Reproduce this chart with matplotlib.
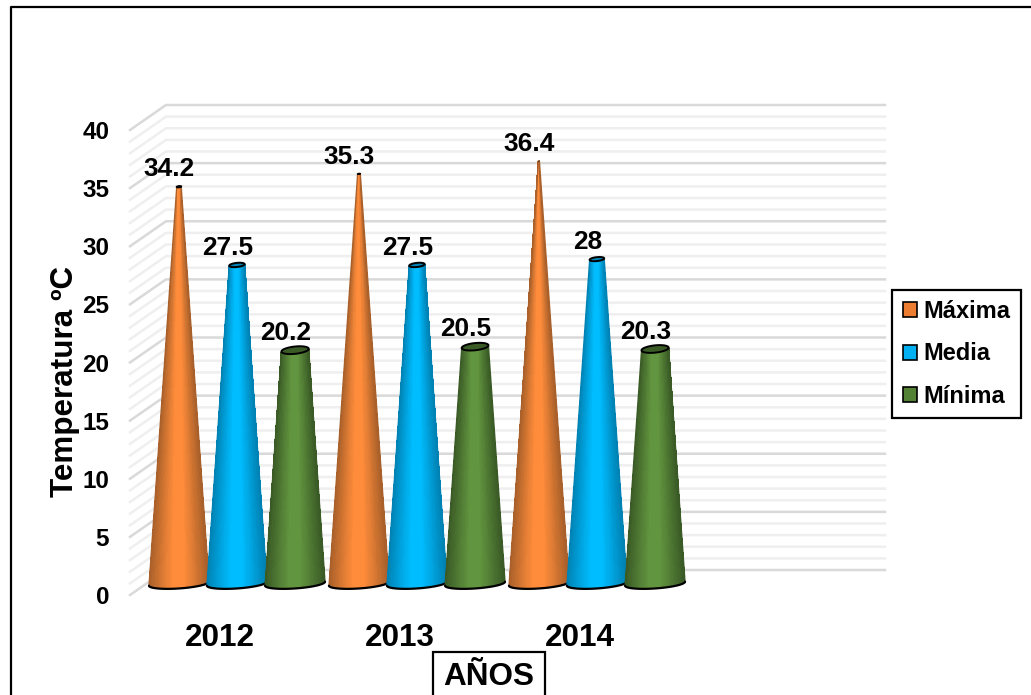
import matplotlib
matplotlib.use("Agg")
import matplotlib.pyplot as plt
import numpy as np
from matplotlib.colors import LinearSegmentedColormap
from matplotlib.lines import Line2D
from matplotlib.patches import Patch, Polygon

plt.rcParams['font.family'] = ['Liberation Sans', 'DejaVu Sans']
plt.rcParams['font.weight'] = 'bold'

# Data
years = ['2012', '2013', '2014']
maxima = [34.2, 35.3, 36.4]
media = [27.5, 27.5, 28]
minima = [20.2, 20.5, 20.3]
data_labels = {'Máxima': ['34.2', '35.3', '36.4'],
               'Media': ['27.5', '27.5', '28'],
               'Mínima': ['20.2', '20.5', '20.3']}
series = {'Máxima': maxima, 'Media': media, 'Mínima': minima}
y_ticks = [0, 5, 10, 15, 20, 25, 30, 35, 40]

# Colors: edge shade, middle shade, legend color
colors = {'Máxima': ('#A9602A', '#FF8C3A', '#ED7D31'),
          'Media': ('#0082B4', '#00BDFF', '#00B0F0'),
          'Mínima': ('#3A5A26', '#62953F', '#548235')}

W, H = 1031, 695
fig = plt.figure(figsize=(W / 100, H / 100), dpi=100, facecolor='white')


def axes_from_px(left, top, right, bottom):
    return fig.add_axes([left / W, 1 - bottom / H, (right - left) / W, (bottom - top) / H])


# Back wall and side wall, in their own axes
wall = axes_from_px(130, 130, 885, 595)
wall.set_xlim(0, 1)
wall.set_ylim(0, 40)
wall.patch.set_visible(False)
for s in wall.spines.values():
    s.set_visible(False)
depth_x = 36 / 755
depth_y = 25 / 465 * 40
for v in range(0, 41):
    major = v % 5 == 0
    wall.plot([0, depth_x, 1], [v, v + depth_y, v + depth_y], clip_on=False,
              color='#D9D9D9' if major else '#EFEFEF', lw=1.8, zorder=1)
wall.set_yticks(y_ticks)
wall.set_yticklabels([str(t) for t in y_ticks], fontsize=17.5)
wall.tick_params(axis='y', length=0, pad=15)
wall.set_xticks([])
wall.set_ylabel('Temperatura ºC', fontsize=22.6, fontweight='bold')
wall.yaxis.set_label_coords(-50 / 755, 0.5 - 18.5 / 465)

# Cones
ax = axes_from_px(130, 119, 885, 586)
ax.set_xlim(-0.5, (885 - 220) / 180)
ax.set_ylim(0, 40)
ax.patch.set_visible(False)
for s in ax.spines.values():
    s.set_visible(False)
ax.set_yticks([])
ax.set_xticks(range(len(years)))
ax.set_xticklabels(years, fontsize=22.7)
ax.tick_params(axis='x', length=0, pad=27)

offsets = [-0.228, 0.094, 0.417]
px_x = 180.0
px_y = 467 / 40
base_hw = 30  # half width of a cone foot, px
apex = 37.0
n = 80
angles = np.linspace(np.pi, 2 * np.pi, n + 1)
around = np.linspace(0, 2 * np.pi, 60)
mid_angles = (angles[:-1] + angles[1:]) / 2

for s_idx, (name, off) in enumerate(zip(series, offsets)):
    edge, mid, _ = colors[name]
    cmap = LinearSegmentedColormap.from_list(name, [(0, edge), (0.4, mid), (0.6, mid), (1, edge)])
    for i, v in enumerate(series[name]):
        c = i + off
        z = 3 + i * 3 + s_idx * 0.5
        top_hw = base_hw * (1 - v / apex)
        foot_x = c + base_hw * np.cos(angles) / px_x
        foot_y = 0.2 + (4.8 * np.sin(angles) + 2.0 * np.cos(angles)) / px_y
        rim_x = c + top_hw * np.cos(angles) / px_x
        rim_y = v + top_hw * (0.27 * np.sin(angles) + 0.1 * np.cos(angles)) / px_y
        X = np.vstack([foot_x, rim_x])
        Y = np.vstack([foot_y, rim_y])
        # shade runs across the width of the cone
        C = ((1 + np.cos(mid_angles)) / 2).reshape(1, -1)
        ax.pcolormesh(X, Y, C, cmap=cmap, shading='flat', zorder=z, clip_on=False,
                      antialiased=False)
        # smooth sides, the mesh itself has hard pixel steps
        for k in (0, -1):
            ax.plot([foot_x[k], rim_x[k]], [foot_y[k], rim_y[k]], color=edge, lw=0.9,
                    zorder=z + 0.05, clip_on=False)
        ax.plot(foot_x, foot_y, color='black', lw=1.6, zorder=z + 0.1, clip_on=False,
                solid_capstyle='round')
        # top cap
        cap = np.column_stack([c + top_hw * np.cos(around) / px_x,
                               v + top_hw * (0.27 * np.sin(around) + 0.1 * np.cos(around)) / px_y])
        ax.add_patch(Polygon(cap, closed=True, facecolor=edge, edgecolor='black',
                             lw=min(1.4, top_hw * 0.8), zorder=z + 0.2, clip_on=False))
        ax.annotate(data_labels[name][i], xy=(c, v), xytext=(-6.8, 12.5), textcoords='offset points',
                    ha='center', va='center', fontsize=18.9, fontweight='bold', zorder=20,
                    annotation_clip=False)

# Legend
handles = [Patch(facecolor=colors[k][2], edgecolor='black', lw=1.2, label=k) for k in series]
leg = fig.legend(handles=handles, loc='center', bbox_to_anchor=(956.5 / W, 1 - 354 / H),
                 fontsize=17, frameon=True, fancybox=False, edgecolor='black', framealpha=1,
                 handlelength=0.6, handleheight=0.6, handletextpad=0.28, labelspacing=0.82,
                 borderpad=0.45, borderaxespad=0)
leg.get_frame().set_linewidth(1.6)
leg.set_zorder(30)

# Axis title in a box, running off the picture bottom
fig.text(489 / W, 1 - 677 / H, 'AÑOS', fontsize=22.7, fontweight='bold', ha='center', va='center',
         bbox=dict(boxstyle='square,pad=0.33', facecolor='white', edgecolor='black', lw=1.6))

# Outer frame
fig.add_artist(Line2D([11 / W, 11 / W, 1.0], [0, 1 - 7 / H, 1 - 7 / H], color='black', lw=1.6))

fig.savefig('out.png', dpi=100)
